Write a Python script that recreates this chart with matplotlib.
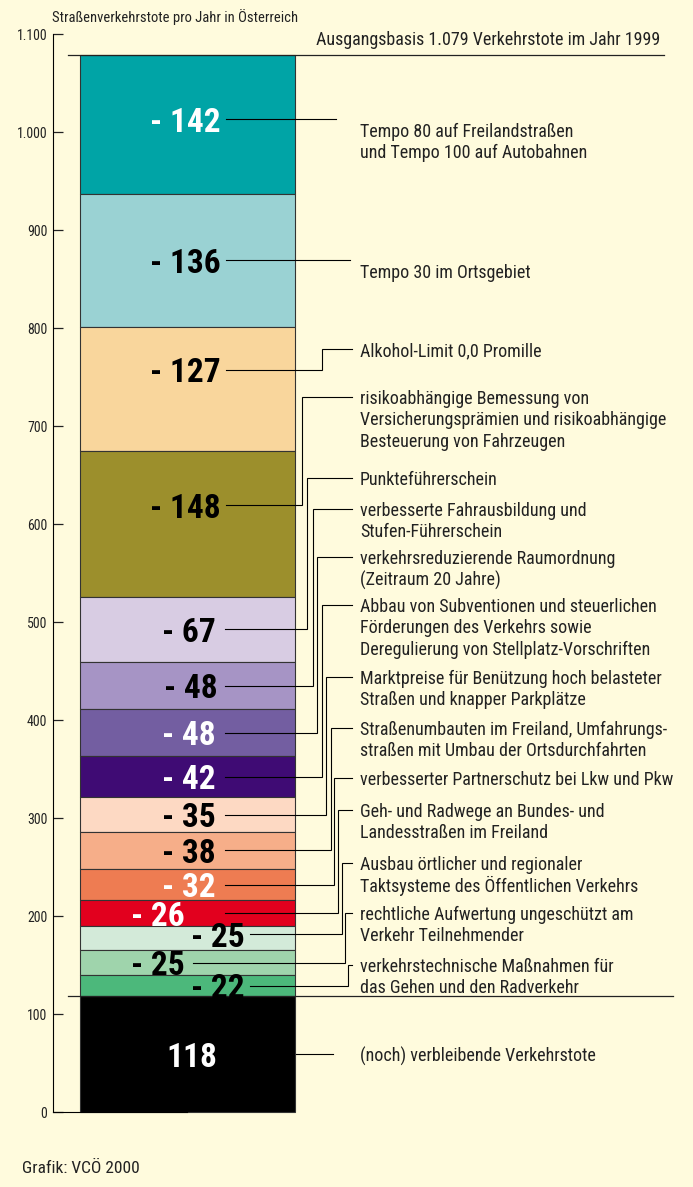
"""Verkehrstote in Österreich: Reduktionspotenzial je Maßnahme (VCÖ 2000)."""

import matplotlib
matplotlib.use("Agg")
import matplotlib.pyplot as plt
from matplotlib import font_manager

W, H = 693, 1187
BG = "#FFFBDD"

# --- data (top of bar to bottom) -------------------------------------------
reductions = [142, 136, 127, 148, 67, 48, 48, 42, 35, 38, 32, 26, 25, 25, 22]
remaining = 118
baseline_total = 1079
segment_colors = ["#00A4A6", "#9AD2D3", "#F9D69C", "#9C8F2C", "#D8CCE3",
                  "#A694C5", "#735EA1", "#3F0B74", "#FDD9C3", "#F6AE89",
                  "#EE7C52", "#E2001E", "#D3EAD9", "#9FD4AC", "#4CB87B"]
label_colors = ["white", "black", "black", "black", "black",
                "black", "white", "white", "black", "black",
                "white", "white", "black", "black", "black"]
measures = [
    "Tempo 80 auf Freilandstraßen\nund Tempo 100 auf Autobahnen",
    "Tempo 30 im Ortsgebiet",
    "Alkohol-Limit 0,0 Promille",
    "risikoabhängige Bemessung von\nVersicherungsprämien und risikoabhängige\nBesteuerung von Fahrzeugen",
    "Punkteführerschein",
    "verbesserte Fahrausbildung und\nStufen-Führerschein",
    "verkehrsreduzierende Raumordnung\n(Zeitraum 20 Jahre)",
    "Abbau von Subventionen und steuerlichen\nFörderungen des Verkehrs sowie\nDeregulierung von Stellplatz-Vorschriften",
    "Marktpreise für Benützung hoch belasteter\nStraßen und knapper Parkplätze",
    "Straßenumbauten im Freiland, Umfahrungs-\nstraßen mit Umbau der Ortsdurchfahrten",
    "verbesserter Partnerschutz bei Lkw und Pkw",
    "Geh- und Radwege an Bundes- und\nLandesstraßen im Freiland",
    "Ausbau örtlicher und regionaler\nTaktsysteme des Öffentlichen Verkehrs",
    "rechtliche Aufwertung ungeschützt am\nVerkehr Teilnehmender",
    "verkehrstechnische Maßnahmen für\ndas Gehen und den Radverkehr",
]
remaining_text = "(noch) verbleibende Verkehrstote"
y_ticks = list(range(0, 1101, 100))

# --- layout (pixel positions) ----------------------------------------------
Y0_PX, PX_PER_UNIT = 1112, 0.98
BAR_LEFT, BAR_RIGHT = 80, 295
TEXT_X = 360
row_px = [130, 271, 349, 397, 478, 509, 557, 605, 677, 728, 778, 810, 863, 913, 965]
remaining_row_px = 1054
label_right = [221, 221, 221, 221, 216, 218, 216, 216, 216, 216, 216, 185, 245, 185, 245]
line_start = [226, 226, 226, 226, 225, 225, 225, 225, 225, 225, 225, 225, 250, 193, 250]
elbow_x = [None, None, 322, 302, 307, 313, 317, 322, 326, 331, 334, 338, 342, 345, 348]
direct_end = {0: 336, 1: 350}
label_dy = [5, 0, 20, 19, 0, 0, 0, 0, 0, 0, 0, 0, 4, 0, 0]
LINE_GAP_PX = 21.3


def py(p):
    return (Y0_PX - p) / PX_PER_UNIT


def pick_font(names):
    have = {f.name for f in font_manager.fontManager.ttflist}
    return [n for n in names if n in have] + ["DejaVu Sans"]


fonts = pick_font(["Liberation Sans Narrow", "Roboto Condensed", "Liberation Sans"])
plt.rcParams["font.family"] = fonts

fig = plt.figure(figsize=(W / 100, H / 100), dpi=100, facecolor=BG)
ax = fig.add_axes([0, 0, 1, 1], facecolor=BG)
ax.set_xlim(0, W)
ax.set_ylim(py(H), py(0))

# stacked bar
bottoms = [remaining + sum(reductions[i + 1:]) for i in range(len(reductions))]
ax.bar(187.5, remaining, bottom=0, width=BAR_RIGHT - BAR_LEFT,
       color="black", edgecolor="#333333", linewidth=0.8, zorder=2)
ax.bar([187.5] * len(reductions), reductions, bottom=bottoms,
       width=BAR_RIGHT - BAR_LEFT, color=segment_colors,
       edgecolor="#333333", linewidth=0.8, zorder=2)

# axis
for s in ("top", "right"):
    ax.spines[s].set_visible(False)
ax.spines["left"].set_position(("data", 53))
ax.spines["left"].set_bounds(0, 1100)
ax.spines["bottom"].set_position(("data", 0))
ax.spines["bottom"].set_bounds(53, 187)
ax.set_xticks([])
ax.set_yticks(y_ticks)
ax.set_yticklabels([f"{v:,}".replace(",", ".") for v in y_ticks])
ax.tick_params(axis="y", direction="in", length=7, width=0.9, labelsize=10,
               colors="#222222")
ax.yaxis.set_tick_params(pad=4)

# reference lines
ax.plot([68, 664], [baseline_total, baseline_total], color="#222222", lw=0.9, zorder=3)
ax.plot([68, 673], [remaining, remaining], color="#222222", lw=0.9, zorder=3)
ax.annotate(f"Ausgangsbasis {baseline_total:,}".replace(",", ".") + " Verkehrstote im Jahr 1999",
            xy=(660, baseline_total), xytext=(0, 4), textcoords="offset points",
            ha="right", va="bottom", fontsize=13, color="#222222")

lw = 0.8
for i, val in enumerate(reductions):
    ly = bottoms[i] + val / 2 + label_dy[i]
    ax.text(label_right[i], ly, f"- {val}", ha="right", va="center_baseline",
            fontsize=24, fontweight="bold", color=label_colors[i], zorder=4)
    ty = py(row_px[i])
    if elbow_x[i] is None:
        ax.plot([line_start[i], direct_end[i]], [ly, ly], color="black", lw=lw, zorder=3)
    else:
        ex = elbow_x[i]
        ax.plot([line_start[i], ex, ex, 352], [ly, ly, ty, ty], color="black",
                lw=lw, zorder=3, solid_joinstyle="miter")
    for k, line in enumerate(measures[i].split("\n")):
        ax.text(TEXT_X, py(row_px[i] + k * LINE_GAP_PX), line, ha="left",
                va="center_baseline", fontsize=13, color="#222222")

# remaining deaths
ax.text(192, remaining / 2, str(remaining), ha="center", va="center_baseline",
        fontsize=24, fontweight="bold", color="white", zorder=4)
ax.plot([296, 333], [remaining / 2, remaining / 2], color="black", lw=lw, zorder=3)
ax.text(TEXT_X, py(remaining_row_px), remaining_text, ha="left",
        va="center_baseline", fontsize=13, color="#222222")

fig.text(52 / W, 1 - 17 / H, "Straßenverkehrstote pro Jahr in Österreich",
         ha="left", va="center", fontsize=10.5, color="#222222")
fig.text(22 / W, 1 - 1168 / H, "Grafik: VCÖ 2000", ha="left", va="center",
         fontsize=12.5, color="#222222")

fig.savefig("out.png", dpi=100, facecolor=BG)
